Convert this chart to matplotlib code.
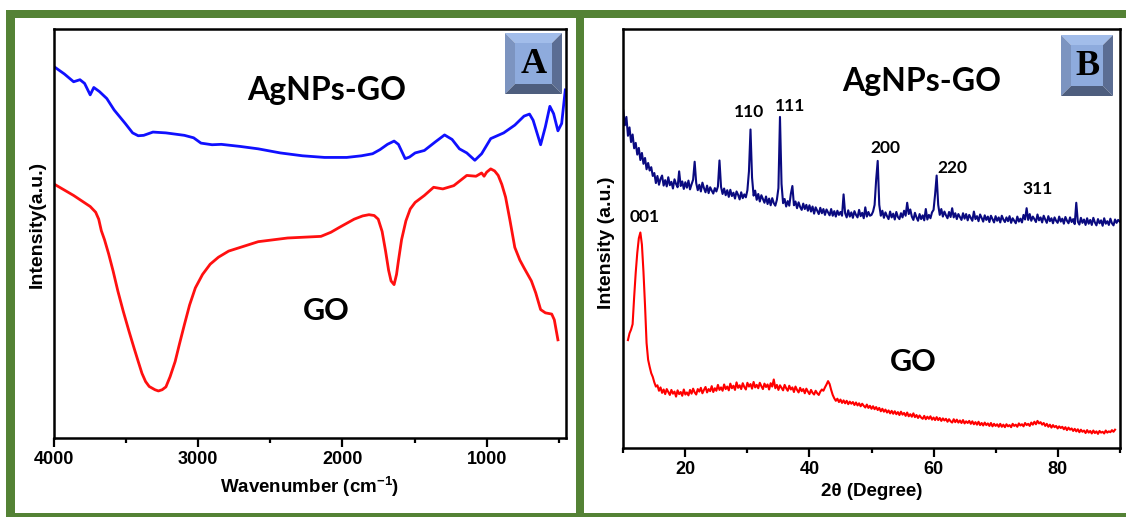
import matplotlib
matplotlib.use("Agg")
import numpy as np
import matplotlib.pyplot as plt
from matplotlib.patches import Rectangle, Polygon
from matplotlib.ticker import MultipleLocator, NullLocator

plt.rcParams['font.family'] = ['Liberation Sans', 'DejaVu Sans']
plt.rcParams['font.weight'] = 'bold'
plt.rcParams['axes.labelweight'] = 'bold'
plt.rcParams['mathtext.fontset'] = 'custom'
plt.rcParams['mathtext.rm'] = 'Liberation Sans:bold'
plt.rcParams['mathtext.bf'] = 'Liberation Sans:bold'
plt.rcParams['mathtext.it'] = 'Liberation Sans:bold'

# ---- panel A: FTIR (wavenumber, intensity a.u.) ----
ftir_agnps_wn = [4000, 3928, 3864, 3820, 3788, 3749, 3724, 3685, 3634, 3583, 3506, 3455, 3416,
                 3378, 3314, 3224, 3096, 3032, 2981, 2904, 2840, 2712, 2584, 2431, 2277, 2124,
                 1970, 1868, 1791, 1740, 1688, 1642, 1612, 1565, 1535, 1496, 1432, 1356, 1292,
                 1240, 1189, 1138, 1082, 1035, 972, 882, 805, 741, 703, 678, 626, 593, 562,
                 536, 506, 480, 455]
ftir_agnps_int = [90.8, 89.0, 87.1, 87.6, 86.7, 83.9, 85.7, 84.7, 83.0, 80.2, 76.9, 74.6, 73.9,
                  74.0, 74.8, 74.6, 74.0, 73.4, 72.1, 71.7, 71.8, 71.3, 70.7, 69.7, 69.0, 68.6,
                  68.6, 69.0, 69.5, 70.5, 71.8, 72.6, 71.8, 68.3, 68.7, 69.7, 70.3, 72.4, 74.1,
                  73.0, 70.7, 69.7, 67.9, 69.5, 73.2, 74.6, 76.5, 78.7, 79.2, 77.7, 71.7, 76.1,
                  81.1, 79.3, 75.1, 76.9, 85.1]

ftir_go_wn = [4000, 3864, 3749, 3711, 3690, 3672, 3650, 3621, 3590, 3557, 3520, 3480, 3445,
              3416, 3390, 3365, 3340, 3300, 3276, 3250, 3224, 3195, 3160, 3130, 3096, 3060,
              3020, 2970, 2917, 2860, 2789, 2584, 2380, 2149, 2080, 2021, 1919, 1860, 1816,
              1780, 1752, 1725, 1701, 1680, 1663, 1642, 1625, 1612, 1590, 1560, 1530, 1496,
              1432, 1368, 1304, 1228, 1138, 1074, 1035, 1018, 1000, 972, 945, 920, 895, 869,
              840, 805, 770, 741, 690, 660, 626, 593, 549, 531, 506]
ftir_go_int = [62.1, 59.3, 56.6, 55.2, 53.5, 50.7, 48.5, 45.0, 40.8, 35.9, 31.0, 26.1, 22.0,
               18.7, 15.8, 13.8, 12.6, 11.8, 11.5, 11.8, 12.5, 15.0, 18.7, 23.0, 27.7, 32.5,
               36.7, 40.0, 42.5, 44.2, 45.7, 48.0, 48.9, 49.3, 50.3, 51.5, 53.5, 54.3, 54.6,
               54.4, 53.5, 50.5, 45.7, 41.0, 38.4, 37.5, 40.0, 43.3, 48.5, 53.1, 56.0, 57.6,
               59.3, 61.3, 60.9, 61.7, 64.2, 64.0, 64.8, 64.0, 65.0, 65.8, 65.3, 64.2, 62.0, 58.9,
               53.5, 46.6, 43.5, 41.6, 38.4, 35.5, 31.4, 30.6, 30.3, 28.9, 24.0]

# ---- panel B: XRD, read every 0.25 degree ----
xrd_agnps_int = [
    80.5, 77.0, 79.0, 74.5, 76.5, 73.0, 74.8, 71.5, 72.8, 70.0, 71.6, 68.7, 70.4, 67.8, 69.2, 66.5, 68.0, 66.2, 67.0, 64.9,
    65.6, 63.2, 64.9, 62.8, 64.2, 65.0, 62.6, 63.9, 62.4, 64.6, 62.7, 63.5, 61.9, 64.1, 63.0, 62.2, 66.0, 62.5, 63.6, 61.8,
    63.4, 62.1, 63.8, 61.7, 62.9, 64.0, 68.3, 63.2, 61.5, 62.8, 61.2, 63.3, 62.0, 61.0, 62.6, 60.8, 62.2, 61.4, 60.7, 62.0,
    61.2, 62.4, 68.6, 62.3, 60.6, 61.9, 60.3, 61.5, 59.9, 61.6, 60.1, 60.9, 59.5, 61.2, 60.4, 59.3, 61.0, 59.6, 60.5, 59.8,
    61.5, 66.0, 76.0, 64.5, 60.2, 61.4, 59.2, 60.6, 58.8, 60.3, 59.4, 58.5, 60.0, 58.2, 59.5, 57.9, 59.6, 58.4, 57.8, 59.2,
    62.0, 79.0, 63.0, 58.4, 59.4, 57.6, 58.9, 57.8, 60.6, 62.5, 57.9, 58.8, 57.2, 58.6, 57.5, 56.8, 58.3, 57.0, 58.0, 56.6,
    57.9, 56.4, 57.6, 55.9, 57.4, 56.6, 55.8, 57.3, 56.0, 57.0, 55.6, 56.9, 56.2, 55.5, 57.0, 55.4, 56.5, 55.2, 56.6, 55.6,
    56.3, 55.4, 60.5, 56.0, 55.0, 56.7, 55.2, 56.2, 54.9, 56.5, 55.6, 55.0, 56.8, 55.3, 56.1, 54.8, 57.4, 55.2, 56.3, 55.4,
    55.6, 56.4, 58.0, 64.0, 68.5, 58.0, 55.4, 56.6, 54.9, 56.2, 55.3, 54.6, 56.4, 55.0, 55.9, 54.5, 56.3, 55.1, 54.6, 56.0,
    55.0, 56.6, 55.4, 58.5, 55.8, 56.9, 55.2, 54.4, 56.1, 55.0, 54.2, 55.8, 54.6, 55.5, 54.3, 57.0, 54.5, 55.6, 54.8, 56.2,
    56.8, 60.5, 65.0, 58.0, 55.6, 57.0, 55.2, 56.4, 55.5, 54.8, 56.3, 55.1, 57.2, 55.0, 56.0, 54.6, 55.8, 55.1, 54.4, 56.0,
    54.7, 55.8, 54.3, 55.6, 54.9, 54.2, 56.4, 54.6, 55.3, 54.1, 55.7, 54.9, 54.0, 55.5, 54.4, 55.2, 53.9, 55.4, 54.6, 53.8,
    55.3, 54.2, 55.0, 53.8, 55.4, 54.5, 53.9, 55.0, 54.1, 55.3, 53.7, 54.8, 54.2, 53.6, 55.2, 54.0, 54.7, 53.8, 55.6, 54.5,
    57.2, 54.4, 55.8, 54.2, 55.2, 54.6, 53.9, 55.7, 54.3, 55.0, 53.8, 55.4, 54.5, 53.7, 55.3, 54.1, 54.8, 53.6, 55.0, 54.2,
    53.7, 55.2, 54.0, 54.7, 53.5, 55.1, 54.2, 53.6, 55.0, 53.9, 54.6, 53.4, 58.5, 54.0, 53.3, 54.9, 53.7, 54.5, 53.2, 54.8,
    53.5, 54.4, 53.2, 54.9, 53.8, 53.1, 54.6, 53.6, 54.3, 53.0, 54.8, 53.5, 54.1, 53.2, 54.7, 53.6, 53.1, 54.5, 53.7, 54.4,
    54.0]
xrd_agnps_2t = 10.0 + 0.25 * np.arange(len(xrd_agnps_int))

xrd_go_int = [
    25.7, 27.3, 28.2, 29.5, 36.0, 41.8, 46.5, 50.0, 51.4, 48.5, 42.0, 34.0, 25.0, 21.0, 19.3, 17.8, 16.9, 15.6, 14.6, 14.9,
    13.6, 14.4, 13.1, 13.9, 12.8, 14.0, 13.3, 12.6, 13.8, 12.9, 13.4, 12.2, 13.7, 12.8, 13.3, 12.4, 13.9, 12.7, 13.2, 12.5,
    13.8, 12.9, 14.1, 13.2, 12.7, 14.0, 13.4, 14.3, 13.0, 13.8, 14.5, 13.2, 14.0, 13.5, 14.7, 13.3, 14.2, 13.6, 15.0, 13.8,
    14.4, 13.6, 15.1, 14.0, 14.6, 13.7, 15.3, 14.2, 14.8, 13.8, 15.6, 14.3, 14.9, 14.0, 15.4, 14.5, 13.9, 15.5, 14.6, 15.2,
    14.1, 15.7, 14.4, 15.0, 14.2, 15.5, 14.7, 14.0, 15.3, 14.5, 15.1, 13.9, 15.4, 14.6, 16.3, 14.2, 15.0, 13.8, 14.9, 14.3,
    13.7, 15.0, 14.2, 13.6, 14.8, 13.9, 14.4, 13.3, 14.6, 13.8, 13.2, 14.3, 13.5, 14.0, 13.0, 14.1, 13.4, 12.8, 13.8, 13.1,
    12.7, 13.6, 13.0, 12.6, 13.4, 13.9, 13.6, 14.4, 15.1, 15.9, 15.2, 13.8, 12.6, 11.8, 11.2, 11.7, 10.9, 11.5, 10.7, 11.3,
    10.6, 11.2, 10.4, 11.0, 10.5, 10.9, 10.2, 10.8, 10.1, 10.6, 9.9, 10.5, 10.0, 9.6, 10.3, 9.5, 10.0, 9.3, 9.9, 9.2,
    9.7, 9.0, 9.5, 8.7, 9.3, 8.6, 9.1, 8.4, 8.9, 8.2, 8.8, 8.1, 8.7, 8.0, 8.5, 7.8, 8.6, 7.9, 8.3, 7.6,
    8.4, 7.5, 8.0, 7.4, 8.2, 7.3, 7.8, 7.1, 7.7, 7.2, 6.9, 7.6, 6.8, 7.4, 6.9, 7.5, 6.7, 7.2, 6.6, 7.3,
    6.6, 7.1, 6.4, 7.0, 6.5, 6.9, 6.2, 6.8, 6.3, 6.0, 6.8, 6.1, 6.7, 6.0, 6.5, 5.9, 6.6, 5.8, 6.3, 5.9,
    6.4, 5.7, 6.3, 5.6, 6.1, 5.5, 6.2, 5.4, 5.9, 5.3, 6.0, 5.4, 5.8, 5.2, 5.9, 5.1, 5.7, 5.2, 5.6, 5.0,
    5.7, 5.0, 5.5, 4.9, 5.6, 5.1, 5.4, 4.9, 5.7, 5.2, 5.5, 5.0, 5.8, 5.3, 5.6, 5.1, 5.9, 5.4, 5.7, 5.2,
    6.0, 5.5, 6.2, 5.6, 6.4, 5.8, 6.1, 5.5, 5.9, 5.2, 5.7, 5.0, 5.5, 4.8, 5.4, 4.9, 5.2, 4.6, 5.1, 4.7,
    5.0, 4.4, 4.9, 4.2, 4.8, 4.3, 4.6, 4.0, 4.5, 3.9, 4.4, 3.7, 4.3, 3.8, 4.1, 3.5, 4.2, 3.6, 4.0, 3.4,
    4.1, 3.5, 3.9, 3.3, 4.0, 3.6, 3.8, 3.4, 4.1, 3.6, 3.9, 3.7, 4.2, 3.8, 4.3]
xrd_go_2t = 10.75 + 0.25 * np.arange(len(xrd_go_int))

# peak labels (hkl) and where they sit
hkl_labels = ['110', '111', '200', '220', '311', '001']
hkl_2t = [30.27, 36.83, 52.2, 62.96, 76.7, 13.5]
hkl_int = [78.9, 80.3, 70.5, 65.6, 60.6, 53.8]

W, H = 1126, 517
GREEN = '#548235'
fig = plt.figure(figsize=(W / 100, H / 100), dpi=100)


def px_rect(x0, y0, x1, y1, color, z=-10):
    fig.add_artist(Rectangle((x0 / W, 1 - y1 / H), (x1 - x0) / W, (y1 - y0) / H,
                             transform=fig.transFigure, facecolor=color,
                             edgecolor='none', zorder=z))


def px_poly(pts, color):
    fig.add_artist(Polygon([(x / W, 1 - y / H) for x, y in pts], closed=True,
                           transform=fig.transFigure, facecolor=color,
                           edgecolor='none', zorder=5))


def bevel_box(x0, y0, x1, y1, letter):
    b = 10
    px_poly([(x0, y0), (x1, y0), (x1 - b, y0 + b), (x0 + b, y0 + b)], '#a2bdea')
    px_poly([(x0, y0), (x0 + b, y0 + b), (x0 + b, y1 - b), (x0, y1)], '#7c94c0')
    px_poly([(x1, y0), (x1, y1), (x1 - b, y1 - b), (x1 - b, y0 + b)], '#5b6d93')
    px_poly([(x0, y1), (x0 + b, y1 - b), (x1 - b, y1 - b), (x1, y1)], '#4e5e7e')
    px_poly([(x0 + b, y0 + b), (x1 - b, y0 + b), (x1 - b, y1 - b), (x0 + b, y1 - b)], '#8eabdd')
    fig.text((x0 + x1) / 2 / W, 1 - ((y0 + y1) / 2 + 1) / H, letter,
             family='Liberation Serif', fontweight='bold', fontsize=26,
             ha='center', va='center', zorder=6)


# green frame with two white panels
px_rect(6, 10, 1126, 517, GREEN, z=-20)
px_rect(15, 18, 576, 513, 'white')
px_rect(584, 18, 1126, 513, 'white')


def style_axes(ax):
    ax.set_facecolor('none')
    for s in ax.spines.values():
        s.set_linewidth(1.8)
    ax.yaxis.set_major_locator(NullLocator())
    ax.tick_params(axis='x', which='major', direction='out', length=6.5, width=1.6,
                   labelsize=13, pad=3)
    ax.tick_params(axis='x', which='minor', direction='out', length=3.5, width=1.6)
    ax.tick_params(axis='x', top=False, which='both')


# ---- panel A ----
axA = fig.add_axes([54 / W, 1 - 438 / H, 512 / W, 409 / H])
axA.plot(ftir_agnps_wn, ftir_agnps_int, color='#1010ff', lw=2.0)
axA.plot(ftir_go_wn, ftir_go_int, color='#ff1010', lw=2.0)
axA.set_xlim(4000, 450)
axA.set_ylim(0, 100)
axA.xaxis.set_major_locator(MultipleLocator(1000))
axA.xaxis.set_minor_locator(MultipleLocator(500))
style_axes(axA)
axA.set_xlabel(r'Wavenumber (cm$^{-1}$)', fontsize=13.5, labelpad=5)
axA.set_ylabel('Intensity(a.u.)', fontsize=14)
axA.yaxis.set_label_coords(-0.017, 0.521)
axA.text(0.533, 0.826, 'AgNPs-GO', transform=axA.transAxes, family='Lato',
         fontweight='bold', fontsize=23, ha='center', va='baseline')
axA.text(0.531, 0.2885, 'GO', transform=axA.transAxes, family='Lato',
         fontweight='bold', fontsize=22, ha='center', va='baseline')

# ---- panel B ----
axB = fig.add_axes([623.3 / W, 1 - 447.7 / H, 496.4 / W, 418.7 / H])
axB.plot(xrd_agnps_2t, xrd_agnps_int, color='#0a0a80', lw=1.5)
axB.plot(xrd_go_2t, xrd_go_int, color='#ff0000', lw=1.5)
axB.set_xlim(10, 90)
axB.set_ylim(0, 100)
axB.xaxis.set_major_locator(MultipleLocator(20))
axB.xaxis.set_minor_locator(MultipleLocator(10))
style_axes(axB)
axB.set_xlabel('2θ (Degree)', fontsize=13.5, labelpad=4)
axB.set_ylabel('Intensity (a.u.)', fontsize=14)
axB.yaxis.set_label_coords(-0.0175, 0.489)
axB.text(0.601, 0.853, 'AgNPs-GO', transform=axB.transAxes, family='Lato',
         fontweight='bold', fontsize=23, ha='center', va='baseline')
axB.text(0.584, 0.183, 'GO', transform=axB.transAxes, family='Lato',
         fontweight='bold', fontsize=22, ha='center', va='baseline')
for lab, tx, ty in zip(hkl_labels, hkl_2t, hkl_int):
    axB.text(tx, ty, lab, family='Lato', fontweight='bold', fontsize=12.5,
             ha='center', va='baseline')

bevel_box(505, 33, 562, 94, 'A')
bevel_box(1061, 35, 1113, 96, 'B')

fig.savefig('out.png', dpi=100)
